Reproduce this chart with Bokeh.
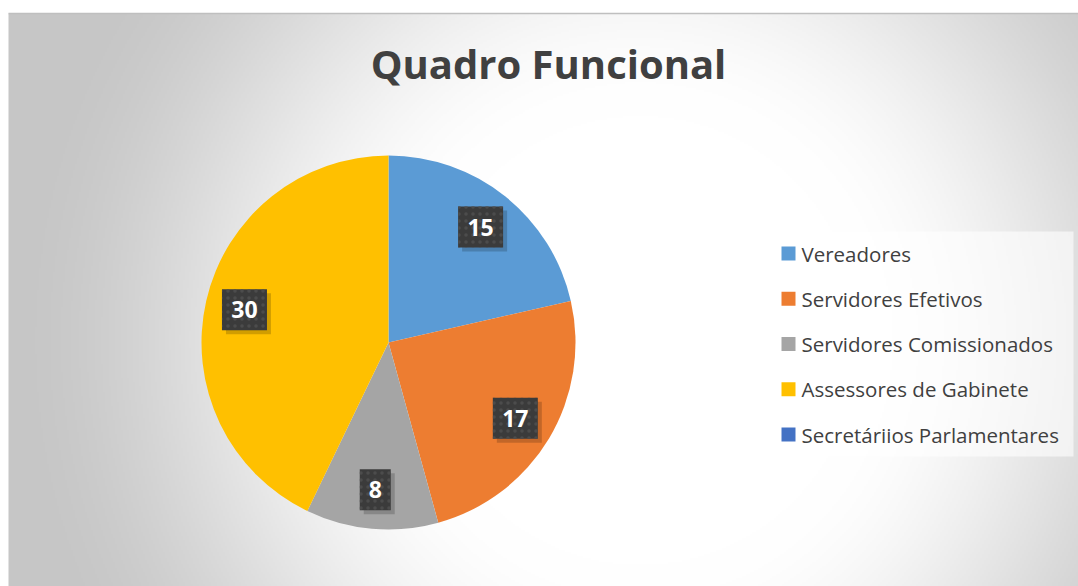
import numpy as np
from bokeh.plotting import figure
from bokeh.models import ColumnDataSource, Range1d
from bokeh.core.properties import value
from bokeh.embed import file_html
from bokeh.resources import INLINE

title = "Quadro Funcional"
categories = ["Vereadores", "Servidores Efetivos", "Servidores Comissionados",
              "Assessores de Gabinete", "Secretáriios Parlamentares"]
values = [15, 17, 8, 30, 0]
colors = ["#5B9BD5", "#ED7D31", "#A5A5A5", "#FFC000", "#4472C4"]

W, H = 1078, 586
FONT = "Open Sans"
p = figure(width=W, height=H, x_range=Range1d(0, W), y_range=Range1d(0, H),
           output_backend="svg", toolbar_location=None, min_border=0)
p.axis.visible = False
p.grid.visible = False
p.outline_line_color = None
p.background_fill_color = "white"
p.border_fill_color = "white"

# background radial gradient (chart area)
X0, BH = 8, 573
BW = W - X0
ny, nx = 287, 535
yy, xx = np.mgrid[0:ny, 0:nx]
xd = X0 + (xx + 0.5) * BW / nx
yd = (yy + 0.5) * BH / ny
cx, cy = 640, 246
e = np.hypot((xd - cx) / 440.0, (yd - cy) / 450.0)
t = np.clip((e - 0.5) / (1.45 - 0.5), 0, 1)
t = t * t * (3 - 2 * t)
v = (255 - 57 * t).astype(np.uint32)
img = (255 << 24) | (v << 16) | (v << 8) | v
p.image_rgba(image=[img.astype(np.uint32)], x=X0, y=0, dw=BW, dh=BH)
p.segment(x0=[X0], y0=[BH], x1=[W], y1=[BH], line_color="#bfbfbf", line_width=1.5)

# pie
PCX, PCY, R = 388, 244, 187
total = float(sum(values))
vals = np.array(values, dtype=float)
cum = np.concatenate([[0], np.cumsum(vals)])
start = np.pi / 2 - cum[:-1] / total * 2 * np.pi
end = np.pi / 2 - cum[1:] / total * 2 * np.pi
mask = vals > 0
src = ColumnDataSource(dict(start=start[mask], end=end[mask],
                            color=[c for c, m in zip(colors, mask) if m]))
p.wedge(x=PCX, y=PCY, radius=R, start_angle="start", end_angle="end",
        direction="clock", fill_color="color", line_color=None, source=src)

# data labels
mid = (start + end) / 2
lr = 0.79 * R
lx = PCX + lr * np.cos(mid[mask])
ly = PCY + lr * np.sin(mid[mask])
labels = [str(int(x)) for x in vals[mask]]
bw = [14 * len(s) + 17 for s in labels]
lsrc = ColumnDataSource(dict(x=lx, y=ly, sx=lx + 4, sy=ly - 4, w=bw, text=labels))
p.rect(x="sx", y="sy", width="w", height=41, fill_color="black", fill_alpha=0.18,
       line_color=None, source=lsrc)
p.rect(x="x", y="y", width="w", height=41, fill_color="#3b3b3b", line_color=None,
       hatch_pattern="dot", hatch_color="#4c4c4c", hatch_scale=7, hatch_weight=1.5,
       source=lsrc)
p.text(x="x", y="y", text="text", text_color="white", text_font=value(FONT),
       text_font_style="bold", text_font_size="23px", text_align="center",
       text_baseline="middle", source=lsrc)

# title
p.text(x=[548], y=[523], text=[title], text_color="#404040", text_font=value(FONT),
       text_font_style="bold", text_font_size="40px", text_align="center",
       text_baseline="middle")

# legend
p.rect(x=[(769 + 1073) / 2], y=[(355 + 130) / 2], width=[304], height=[225],
       fill_color="white", fill_alpha=0.6, line_color=None)
ly0, step = 333, 45.25
leg_y = [ly0 - i * step for i in range(len(categories))]
gsrc = ColumnDataSource(dict(x=[788] * len(categories), tx=[801] * len(categories),
                             y=leg_y, color=colors, text=categories))
p.rect(x="x", y="y", width=14, height=14, fill_color="color", line_color=None, source=gsrc)
p.text(x="tx", y="y", text="text", text_color="#404040", text_font=value(FONT),
       text_font_size="20.5px", text_align="left", text_baseline="middle", source=gsrc)

open("out.html", "w").write(file_html(p, INLINE))
